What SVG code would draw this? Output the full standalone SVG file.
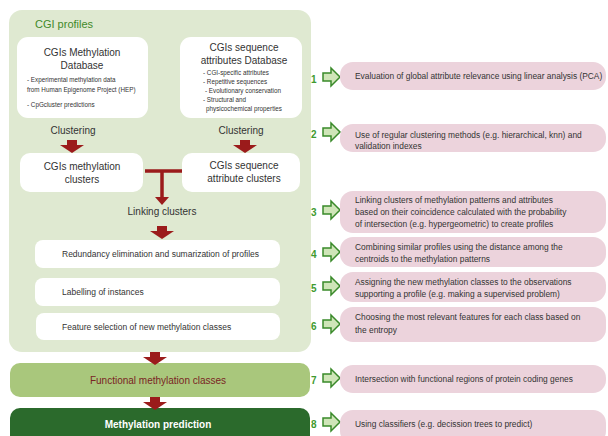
<svg xmlns="http://www.w3.org/2000/svg" width="608" height="436" viewBox="0 0 608 436">
<defs>
<style>
text{font-family:"Liberation Sans","DejaVu Sans",sans-serif;fill:#333}
.wb{fill:#fff}
.pk{fill:#ecd3dc}
.t1{font-size:10px;text-anchor:middle;fill:#333}
.sm{font-size:6.3px}
.st{font-size:8.4px}
.pr{font-size:8.5px}
.num{font-size:10px;font-weight:bold;fill:#3f9a2f}
.ic{fill:#cfe5b8;stroke:#3a8a2a;stroke-width:1.5;stroke-linejoin:miter}
.ba{fill:#9b1b1b}
</style>
<symbol id="icon" viewBox="0 0 20 20" overflow="visible">
<path class="ic" d="M1,6 H9 V1 L18,10 L9,19 V14 H1 Z"/>
</symbol>
<path id="barrow" d="M-5,0 H5 V5 H12 L0,13 L-12,5 H-5 Z"/>
</defs>

<g id="cgi-profiles">
<rect x="9" y="10" width="302" height="342" rx="13" fill="#dfe9d1"/>
<text x="35" y="28" font-size="11" style="fill:#3f8a2a">CGI profiles</text>
</g>

<g id="meth-db">
<rect class="wb" x="17" y="37" width="131" height="81" rx="11"/>
<text class="t1" x="82" y="56">CGIs Methylation</text>
<text class="t1" x="82" y="69">Database</text>
<text class="sm" x="27" y="82">- Experimental methylation data</text>
<text class="sm" x="27" y="92">from Human Epigenome Project (HEP)</text>
<text class="sm" x="27" y="107">- CpGcluster predictions</text>
</g>

<g id="seq-db">
<rect class="wb" x="180" y="37" width="122" height="81" rx="11"/>
<text class="t1" x="244" y="51">CGIs sequence</text>
<text class="t1" x="244" y="64">attributes Database</text>
<text class="sm" x="203" y="75">- CGI-specific attributes</text>
<text class="sm" x="203" y="84">- Repetitive sequences</text>
<text class="sm" x="205" y="93">- Evolutionary conservation</text>
<text class="sm" x="203" y="102">- Structural and</text>
<text class="sm" x="206" y="111">physicochemical properties</text>
</g>

<g id="clustering-labels">
<text class="t1" x="73" y="134" font-size="9.7">Clustering</text>
<text class="t1" x="241" y="134" font-size="9.7">Clustering</text>
</g>

<g id="meth-clusters">
<rect class="wb" x="20" y="153" width="123" height="39" rx="10"/>
<text class="t1" x="82" y="170">CGIs methylation</text>
<text class="t1" x="82" y="183">clusters</text>
</g>

<g id="seq-clusters">
<rect class="wb" x="182" y="153" width="118" height="39" rx="10"/>
<text class="t1" x="244" y="169">CGIs sequence</text>
<text class="t1" x="244" y="182">attribute clusters</text>
</g>

<g id="linking">
<text class="t1" x="162" y="215" font-size="9.3">Linking clusters</text>
</g>

<g id="redundancy">
<rect class="wb" x="35" y="240" width="245" height="28" rx="8"/>
<text class="pr" x="62" y="257">Redundancy elimination and sumarization of profiles</text>
</g>
<g id="labelling">
<rect class="wb" x="35" y="278" width="245" height="28" rx="8"/>
<text class="pr" x="62" y="295">Labelling of instances</text>
</g>
<g id="feature-selection">
<rect class="wb" x="36" y="313" width="244" height="27" rx="8"/>
<text class="pr" x="62" y="330">Feature selection of new methylation classes</text>
</g>

<g id="functional">
<rect x="10" y="363" width="300" height="34" rx="10" fill="#a9c77c"/>
<text class="t1" x="158" y="384" font-size="9.2" style="fill:#7a2424">Functional methylation classes</text>
</g>

<g id="prediction">
<rect x="10" y="408" width="300" height="40" rx="10" fill="#2b6a2c"/>
<text class="t1" x="158" y="428" font-size="9.4" font-weight="bold" style="fill:#fff">Methylation prediction</text>
</g>

<g id="connectors">
<use href="#barrow" class="ba" x="72" y="140"/>
<use href="#barrow" class="ba" x="245" y="140"/>
<path d="M145,171 H182 M162,171 V199" stroke="#9b1b1b" stroke-width="3.5" fill="none"/>
<path class="ba" d="M155,197 H169 L162,205 Z"/>
<use href="#barrow" class="ba" x="162" y="226"/>
<use href="#barrow" class="ba" x="155" y="352"/>
<use href="#barrow" class="ba" x="155" y="397"/>
</g>

<g id="step1">
<text class="num" x="311" y="83">1</text>
<use href="#icon" x="322" y="67" width="20" height="20"/>
<rect class="pk" x="340" y="62" width="266" height="28" rx="13"/>
<text class="st" x="355" y="79">Evaluation of global attribute relevance using linear analysis (PCA)</text>
</g>
<g id="step2">
<text class="num" x="311" y="138">2</text>
<use href="#icon" x="322" y="122" width="20" height="20"/>
<rect class="pk" x="340" y="124" width="266" height="28" rx="13"/>
<text class="st" x="355" y="138">Use of regular clustering methods (e.g. hierarchical, knn) and</text>
<text class="st" x="355" y="149">validation indexes</text>
</g>
<g id="step3">
<text class="num" x="311" y="216">3</text>
<use href="#icon" x="322" y="200" width="20" height="20"/>
<rect class="pk" x="340" y="191" width="266" height="42" rx="13"/>
<text class="st" x="355" y="203">Linking clusters of methylation patterns and  attributes</text>
<text class="st" x="355" y="215">based on their coincidence calculated with the probability</text>
<text class="st" x="355" y="227">of intersection (e.g. hypergeometric) to create profiles</text>
</g>
<g id="step4">
<text class="num" x="311" y="258">4</text>
<use href="#icon" x="322" y="242" width="20" height="20"/>
<rect class="pk" x="340" y="237" width="266" height="30" rx="13"/>
<text class="st" x="355" y="250">Combining similar profiles  using the distance among the</text>
<text class="st" x="355" y="262">centroids to the methylation patterns</text>
</g>
<g id="step5">
<text class="num" x="311" y="292">5</text>
<use href="#icon" x="322" y="276" width="20" height="20"/>
<rect class="pk" x="340" y="272" width="266" height="30" rx="13"/>
<text class="st" x="355" y="285">Assigning the new methylation classes to the observations</text>
<text class="st" x="355" y="297">supporting a profile (e.g. making a supervised problem)</text>
</g>
<g id="step6">
<text class="num" x="311" y="330">6</text>
<use href="#icon" x="322" y="314" width="20" height="20"/>
<rect class="pk" x="340" y="307" width="266" height="35" rx="13"/>
<text class="st" x="355" y="320">Choosing the most relevant features for each class based on</text>
<text class="st" x="355" y="333">the entropy</text>
</g>
<g id="step7">
<text class="num" x="311" y="384">7</text>
<use href="#icon" x="322" y="368" width="20" height="20"/>
<rect class="pk" x="340" y="365" width="266" height="28" rx="13"/>
<text class="st" x="355" y="382">Intersection with functional regions of protein coding genes</text>
</g>
<g id="step8">
<text class="num" x="311" y="428">8</text>
<use href="#icon" x="322" y="412" width="20" height="20"/>
<rect class="pk" x="340" y="410" width="266" height="34" rx="13"/>
<text class="st" x="355" y="427">Using classifiers (e.g. decission trees to predict)</text>
</g>
</svg>
